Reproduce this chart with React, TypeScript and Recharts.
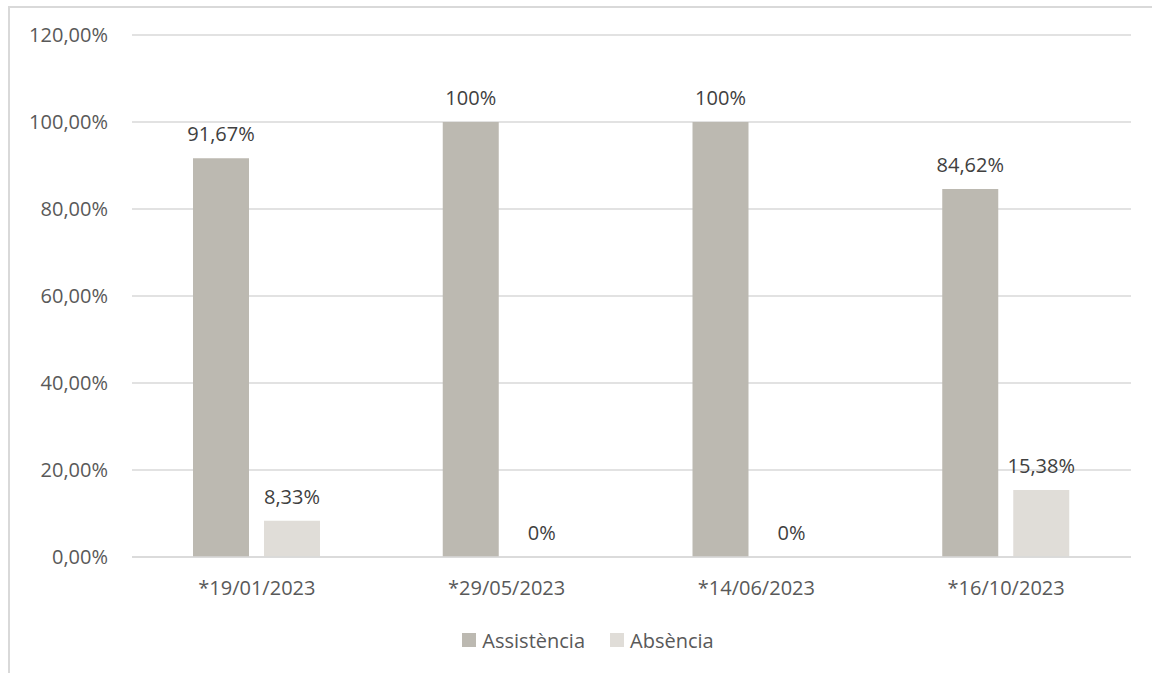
import { BarChart, Bar, XAxis, YAxis, CartesianGrid, Legend, LabelList } from 'recharts';

// Assistència / Absència per sessió
const categories = ['*19/01/2023', '*29/05/2023', '*14/06/2023', '*16/10/2023'];
const seriesNames = ['Assistència', 'Absència'];
const seriesColors = ['#BCB9B1', '#E0DDD8'];
const assistencia = [0.9167, 1, 1, 0.8462];
const absencia = [0.0833, 0, 0, 0.1538];
const assistenciaLabels = ['91,67%', '100%', '100%', '84,62%'];
const absenciaLabels = ['8,33%', '0%', '0%', '15,38%'];
const yTicks = [0, 0.2, 0.4, 0.6, 0.8, 1, 1.2];

const data = categories.map((name, i) => ({
  name,
  assistencia: assistencia[i],
  absencia: absencia[i],
  assistenciaLabel: assistenciaLabels[i],
  absenciaLabel: absenciaLabels[i],
}));

const FONT = '"Open Sans", sans-serif';
const FS = 20;
const fmtPct = (v: number) => (v * 100).toFixed(2).replace('.', ',') + '%';

function LegendBox() {
  return (
    <div style={{ display: 'flex', justifyContent: 'center', alignItems: 'center', height: 26, fontSize: FS, fontFamily: FONT, color: '#595959' }}>
      {seriesNames.map((n, i) => (
        <span key={n} style={{ display: 'inline-flex', alignItems: 'center', marginRight: i === 0 ? 25 : 0 }}>
          <span style={{ width: 14, height: 14, background: seriesColors[i], marginRight: 6, display: 'inline-block' }} />
          {n}
        </span>
      ))}
    </div>
  );
}

export default function App() {
  return (
    <div style={{ position: 'absolute', left: 0, top: 0, width: 1152, height: 673, background: '#fff', overflow: 'hidden', fontFamily: FONT }}>
      <div
        style={{
          position: 'absolute',
          left: 8,
          top: 6,
          width: 1200,
          height: 700,
          borderLeft: '2px solid #D9D9D9',
          borderTop: '2px solid #D9D9D9',
        }}
      />
      <BarChart
        width={1152}
        height={673}
        data={data}
        margin={{ top: 35, right: 21, bottom: 20, left: 0 }}
        barSize={56}
        barGap={15}
        style={{ position: 'absolute', left: 0, top: 0 }}
      >
        <CartesianGrid vertical={false} stroke="#D9D9D9" strokeWidth={1.5} />
        <XAxis
          dataKey="name"
          axisLine={{ stroke: '#D9D9D9', strokeWidth: 1.5 }}
          tickLine={false}
          tickSize={0}
          tickMargin={24}
          height={70}
          tick={{ fill: '#595959', fontSize: FS, fontFamily: FONT }}
        />
        <YAxis
          domain={[0, 1.2]}
          ticks={yTicks}
          tickFormatter={fmtPct}
          axisLine={false}
          tickLine={false}
          tickSize={0}
          tickMargin={24}
          width={132}
          tick={{ fill: '#595959', fontSize: FS, fontFamily: FONT }}
        />
        <Legend
          verticalAlign="bottom"
          content={() => <LegendBox />}
          wrapperStyle={{ left: 0, width: 1176 }}
        />
        <Bar dataKey="assistencia" name={seriesNames[0]} fill={seriesColors[0]} minPointSize={0.01} isAnimationActive={false}>
          <LabelList dataKey="assistenciaLabel" position="top" offset={17} fill="#404040" fontSize={FS} fontFamily={FONT} />
        </Bar>
        <Bar dataKey="absencia" name={seriesNames[1]} fill={seriesColors[1]} minPointSize={0.01} isAnimationActive={false}>
          <LabelList dataKey="absenciaLabel" position="top" offset={17} fill="#404040" fontSize={FS} fontFamily={FONT} />
        </Bar>
      </BarChart>
    </div>
  );
}
